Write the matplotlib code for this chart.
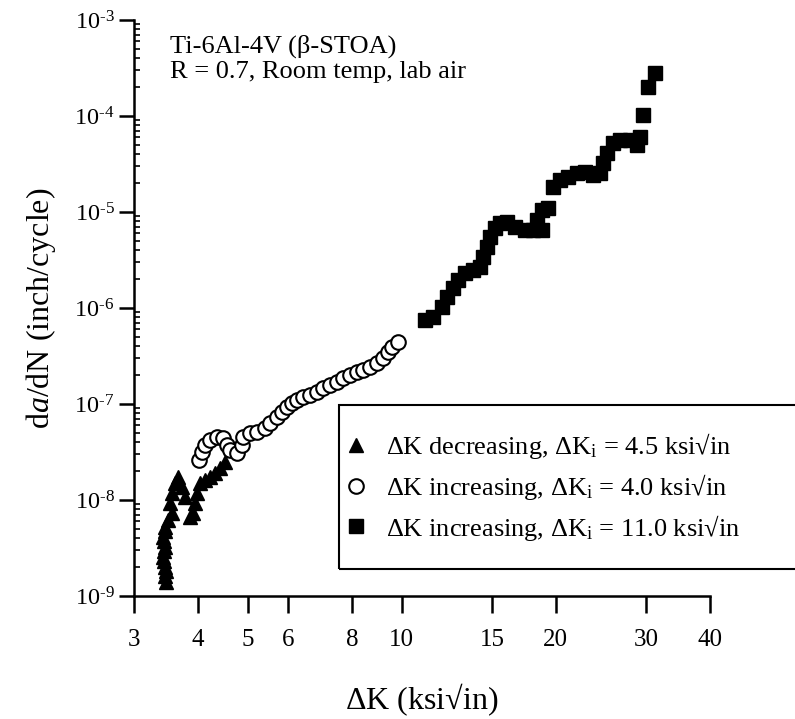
import matplotlib
matplotlib.use("Agg")
import matplotlib.pyplot as plt
from matplotlib.patches import Rectangle
from matplotlib.ticker import FixedLocator, FixedFormatter, LogLocator, NullFormatter, NullLocator, FuncFormatter
import numpy as np

plt.rcParams['font.family'] = ['Liberation Serif', 'DejaVu Serif']
plt.rcParams['mathtext.fontset'] = 'custom'
plt.rcParams['mathtext.rm'] = 'Liberation Serif'
plt.rcParams['mathtext.it'] = 'Liberation Serif:italic'

# dK decreasing, dKi = 4.5
dk_dec = [3.47, 3.45, 3.46, 3.45, 3.43, 3.42, 3.43, 3.45, 3.43, 3.42, 3.45, 3.45,
          3.50, 3.56, 3.53, 3.56, 3.61, 3.66, 3.72, 3.77, 3.86, 3.92, 3.95, 3.98,
          4.04, 4.13, 4.22, 4.32, 4.42, 4.51]
da_dec = [1.41e-9, 1.62e-9, 1.82e-9, 2.02e-9, 2.31e-9, 2.57e-9, 2.94e-9, 3.26e-9,
          3.74e-9, 4.15e-9, 4.75e-9, 5.27e-9, 6.19e-9, 7.27e-9, 9.24e-9, 1.17e-8,
          1.49e-8, 1.75e-8, 1.38e-8, 1.08e-8, 6.70e-9, 7.27e-9, 9.24e-9, 1.17e-8,
          1.49e-8, 1.62e-8, 1.75e-8, 1.90e-8, 2.14e-8, 2.51e-8]

# dK increasing, dKi = 4.0
dk_inc4 = [4.01, 4.07, 4.13, 4.22, 4.35, 4.48, 4.55, 4.62, 4.76, 4.87, 4.90, 5.05,
           5.21, 5.41, 5.53, 5.70, 5.83, 5.96, 6.10, 6.24, 6.42, 6.62, 6.82, 7.03,
           7.25, 7.47, 7.69, 7.93, 8.17, 8.41, 8.67, 8.94, 9.21, 9.42, 9.56, 9.85]
da_inc4 = [2.61e-8, 3.19e-8, 3.74e-8, 4.22e-8, 4.56e-8, 4.39e-8, 3.74e-8, 3.32e-8,
           3.06e-8, 3.74e-8, 4.56e-8, 4.95e-8, 5.14e-8, 5.58e-8, 6.29e-8, 7.38e-8,
           8.32e-8, 9.37e-8, 1.02e-7, 1.10e-7, 1.19e-7, 1.24e-7, 1.34e-7, 1.46e-7,
           1.58e-7, 1.71e-7, 1.85e-7, 2.00e-7, 2.17e-7, 2.26e-7, 2.45e-7, 2.65e-7,
           2.99e-7, 3.51e-7, 3.95e-7, 4.46e-7]

# dK increasing, dKi = 11.0
dk_inc11 = [11.10, 11.53, 11.97, 12.24, 12.61, 12.90, 13.29, 13.80, 14.22, 14.43,
            14.66, 14.88, 15.22, 15.56, 16.03, 16.64, 17.41, 18.07, 18.77, 18.35,
            18.77, 19.33, 19.77, 20.38, 21.15, 21.97, 22.80, 23.67, 24.39, 24.76,
            25.14, 25.90, 26.69, 27.92, 28.77, 29.20, 29.64, 30.31, 31.23]
da_inc11 = [7.5e-7, 8.1e-7, 1.03e-6, 1.31e-6, 1.60e-6, 1.96e-6, 2.30e-6, 2.49e-6,
            2.69e-6, 3.42e-6, 4.35e-6, 5.53e-6, 6.76e-6, 7.62e-6, 7.93e-6, 7.03e-6,
            6.49e-6, 6.49e-6, 6.49e-6, 8.26e-6, 1.05e-5, 1.09e-5, 1.84e-5, 2.15e-5,
            2.33e-5, 2.53e-5, 2.63e-5, 2.43e-5, 2.53e-5, 3.21e-5, 4.08e-5, 5.20e-5,
            5.62e-5, 5.62e-5, 4.99e-5, 6.08e-5, 1.02e-4, 2.02e-4, 2.79e-4]

labels = [r'$\Delta$K decreasing, $\Delta$K$_\mathrm{i}$ = 4.5 ksi√in',
          r'$\Delta$K increasing, $\Delta$K$_\mathrm{i}$ = 4.0 ksi√in',
          r'$\Delta$K increasing, $\Delta$K$_\mathrm{i}$ = 11.0 ksi√in']
x_ticks = [3, 4, 5, 6, 8, 10, 15, 20, 30, 40]

fig = plt.figure(figsize=(7.95, 7.19), dpi=100)
ax = fig.add_axes([134 / 795, 123 / 719, 576 / 795, 576 / 719])

ms = 10.5
h1, = ax.plot(dk_dec, da_dec, '^', color='black', ms=ms, ls='none', label=labels[0])
h2, = ax.plot(dk_inc4, da_inc4, 'o', mfc='white', mec='black', mew=1.5, ms=ms, ls='none', label=labels[1])
h3, = ax.plot(dk_inc11, da_inc11, 's', color='black', ms=ms, ls='none', label=labels[2])

ax.set_xscale('log')
ax.set_yscale('log')
ax.set_xlim(3, 40)
ax.set_ylim(1e-9, 1e-3)

ax.xaxis.set_major_locator(FixedLocator(x_ticks))
ax.xaxis.set_major_formatter(FixedFormatter([str(t) for t in x_ticks]))
ax.xaxis.set_minor_locator(NullLocator())
ax.yaxis.set_major_locator(LogLocator(base=10, numticks=10))
ax.yaxis.set_major_formatter(FuncFormatter(
    lambda v, pos: '10$^{\\text{-}%d}$' % round(-np.log10(v))))
ax.yaxis.set_minor_locator(LogLocator(base=10, subs=range(2, 10), numticks=20))
ax.yaxis.set_minor_formatter(NullFormatter())

for s in ['top', 'right']:
    ax.spines[s].set_visible(False)
for s in ['left', 'bottom']:
    ax.spines[s].set_linewidth(1.8)

ax.tick_params(axis='x', which='major', direction='out', length=12, width=1.8, labelsize=18, pad=12)
ax.tick_params(axis='y', which='major', direction='out', length=11, width=1.8, labelsize=17.5, pad=3)
ax.tick_params(axis='y', which='minor', direction='in', length=4, width=1.2)

ax.set_xlabel('$\\Delta$K (ksi√in)', fontsize=23, labelpad=22)
ax.set_ylabel('d$a$/dN (inch/cycle)', fontsize=23, labelpad=12)

ax.text(0.062, 0.975, 'Ti-6Al-4V (β-STOA)\nR = 0.7, Room temp, lab air',
        transform=ax.transAxes, fontsize=19, va='top', ha='left', linespacing=1.2)

# legend box running off the right edge
fig.patches.append(Rectangle((339 / 795, 150 / 719), 0.6, 164 / 719, transform=fig.transFigure,
                             fill=False, lw=1.5, ec='black'))
fig.legend(handles=[h1, h2, h3], loc='center left', bbox_to_anchor=(331 / 795, (719 - 487) / 719),
           frameon=False, fontsize=19, handlelength=0.9, handletextpad=0.7, labelspacing=0.4,
           borderpad=0.0, markerscale=1.0)

plt.savefig('out.png', dpi=100)
